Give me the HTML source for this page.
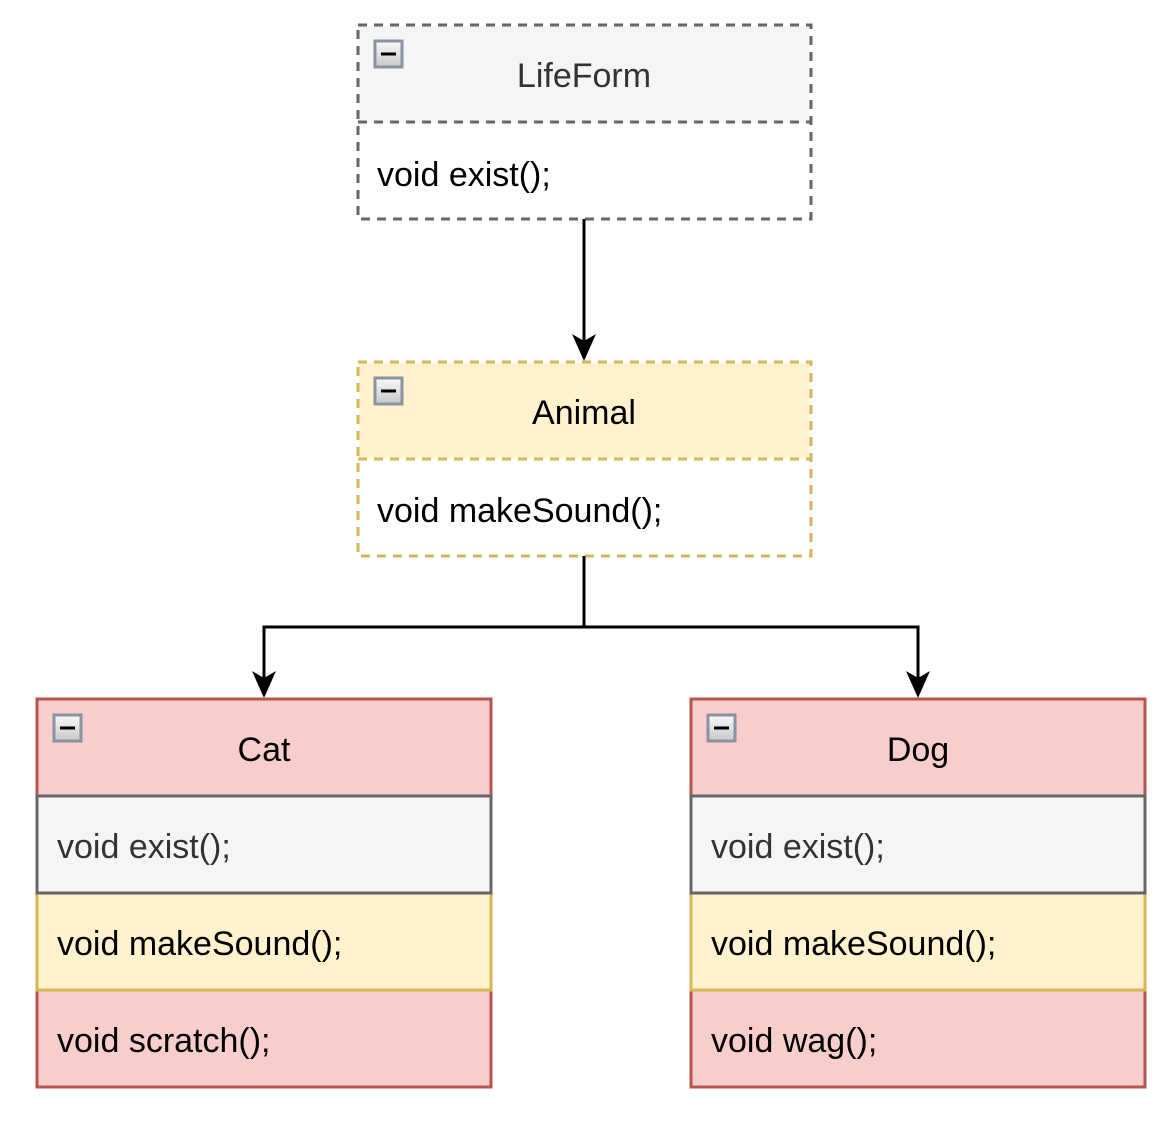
<!DOCTYPE html>
<html><head><meta charset="utf-8"><style>html,body{margin:0;padding:0;background:#fff}</style></head>
<body>
<svg width="1174" height="1126" xmlns="http://www.w3.org/2000/svg" font-family="Liberation Sans, Arial, sans-serif" font-size="34">
<defs>
<linearGradient id="g" x1="0" y1="0" x2="0" y2="1"><stop offset="0" stop-color="#fafafa"/><stop offset="1" stop-color="#c8c8c8"/></linearGradient>
<g id="mi"><rect x="0" y="0" width="27" height="26" fill="url(#g)" stroke="#8a93a3" stroke-width="3"/><rect x="6" y="11.5" width="15" height="3" fill="#000"/></g>
</defs>
<!-- LifeForm -->
<rect x="358" y="25" width="453" height="194" fill="#fff" stroke="#666" stroke-width="3" stroke-dasharray="9,7"/>
<rect x="359.5" y="26.5" width="450" height="95" fill="#f5f5f5"/>
<line x1="358" y1="122" x2="811" y2="122" stroke="#666" stroke-width="3" stroke-dasharray="9,7"/>
<rect x="358" y="25" width="453" height="194" fill="none" stroke="#666" stroke-width="3" stroke-dasharray="9,7"/>
<use href="#mi" x="375" y="41"/>
<text x="584" y="87" text-anchor="middle" fill="#333">LifeForm</text>
<text x="377" y="186" fill="#000">void exist();</text>
<!-- arrow -->
<line x1="584" y1="219" x2="584" y2="345" stroke="#000" stroke-width="3"/>
<path d="M584 361 L572 334 L584 341 L596 334 Z" fill="#000"/>
<!-- Animal -->
<rect x="359.5" y="363.5" width="450" height="95" fill="#fff2cc"/>
<line x1="358" y1="459" x2="811" y2="459" stroke="#d6b656" stroke-width="3" stroke-dasharray="9,7"/>
<rect x="358" y="362" width="453" height="194" fill="none" stroke="#d6b656" stroke-width="3" stroke-dasharray="9,7"/>
<use href="#mi" x="375" y="378"/>
<text x="584" y="424" text-anchor="middle" fill="#000">Animal</text>
<text x="377" y="522" fill="#000">void makeSound();</text>
<!-- connectors -->
<path d="M584 556 V627 H264 V682 M584 627 H918 V682" fill="none" stroke="#000" stroke-width="3"/>
<path d="M264 698 L252 671 L264 678 L276 671 Z" fill="#000"/>
<path d="M918 698 L906 671 L918 678 L930 671 Z" fill="#000"/>
<!-- Cat -->
<g>
<rect x="37" y="699" width="454" height="97" fill="#f8cecc" stroke="#b85450" stroke-width="3"/>
<rect x="37" y="990" width="454" height="97" fill="#f8cecc" stroke="#b85450" stroke-width="3"/>
<rect x="37" y="893" width="454" height="97" fill="#fff2cc" stroke="#d6b656" stroke-width="3"/>
<rect x="37" y="796" width="454" height="97" fill="#f5f5f5" stroke="#666" stroke-width="3"/>
<use href="#mi" x="54" y="715"/>
<text x="264" y="761" text-anchor="middle" fill="#000">Cat</text>
<text x="57" y="858" fill="#333">void exist();</text>
<text x="57" y="955" fill="#000">void makeSound();</text>
<text x="57" y="1052" fill="#000">void scratch();</text>
</g>
<!-- Dog -->
<g>
<rect x="691" y="699" width="454" height="97" fill="#f8cecc" stroke="#b85450" stroke-width="3"/>
<rect x="691" y="990" width="454" height="97" fill="#f8cecc" stroke="#b85450" stroke-width="3"/>
<rect x="691" y="893" width="454" height="97" fill="#fff2cc" stroke="#d6b656" stroke-width="3"/>
<rect x="691" y="796" width="454" height="97" fill="#f5f5f5" stroke="#666" stroke-width="3"/>
<use href="#mi" x="708" y="715"/>
<text x="918" y="761" text-anchor="middle" fill="#000">Dog</text>
<text x="711" y="858" fill="#333">void exist();</text>
<text x="711" y="955" fill="#000">void makeSound();</text>
<text x="711" y="1052" fill="#000">void wag();</text>
</g>
</svg>
</body></html>
